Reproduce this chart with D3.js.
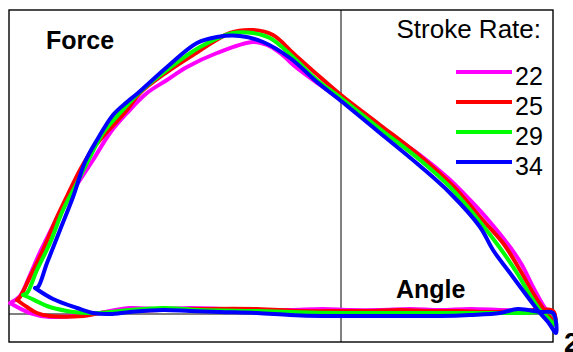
<!DOCTYPE html>
<html>
<head>
<meta charset="utf-8">
<script src="https://cdn.jsdelivr.net/npm/d3@7"></script>
<style>
  html, body { margin: 0; padding: 0; background: #fff; overflow: hidden; }
  text { font-family: "Liberation Sans", Arial, sans-serif; }
</style>
</head>
<body>
<svg id="chart" width="573" height="352"></svg>
<script>
// handle angle (deg) and force (N), drive then recovery, for each stroke rate
const rates = ["22", "25", "29", "34"];
const colors = ["#ff00ff", "#ff0000", "#00ff00", "#0000ff"];

const angle22 = [-66.2,-64.2,-62.2,-60.2,-58.8,-56.2,-54.2,-51.8,-49.6,-46.2,-42.8,-38.8,-34.8,-30.8,-24.8,-17.6,-14.8,-12.2,-8.8,-4.2,0,7.8,15.8,21.4,25.8,29.8,33.8,36.2,38.4,40.4,41.8,42.8,
  42.4,37.8,31.8,25.8,19.8,13.8,7.8,1.8,-3.6,-10.2,-16.8,-23.2,-30.2,-36.2,-42.2,-46.2,-48.2,-51.6,-58.2,-62.2,-66.2];
const force22 = [44,72,156,248,304,408,476,548,616,724,804,884,936,988,1044,1088,1076,1044,984,916,856,744,636,544,456,368,268,196,108,36,-4,-32,
  8,12,16,20,16,20,16,16,20,16,16,20,24,20,24,12,4,-4,-12,4,44];

const angle25 = [-64.8,-64.2,-62.2,-59.6,-56.8,-54.2,-52.2,-50.2,-48.2,-42.8,-40.2,-34.8,-29.6,-22.2,-17.6,-13.6,-9.6,-4.2,0,7.8,15.8,22.4,27.8,32.4,35.8,38.4,40.2,41.4,42.8,
  42.4,35.8,29.8,23.8,17.8,11.8,5.8,0,-8.2,-16.8,-28.2,-36.2,-42.2,-48.2,-51.6,-58.2,-60.8,-62.8,-64.8];
const force25 = [56,68,148,256,388,496,576,644,696,816,884,968,1036,1124,1136,1116,1044,948,876,756,632,512,388,284,176,84,28,-4,-32,
  12,12,8,12,12,16,12,12,12,20,20,16,12,4,-8,-8,4,28,56];

const angle29 = [-63.6,-62.8,-60.8,-58.2,-55.6,-52.8,-50.2,-47.6,-44.2,-40.2,-34.8,-28.2,-21.6,-17.6,-14.2,-9.6,-4.8,0,7.8,15.8,21.8,27.8,31.8,35.2,37.8,39.8,41.4,42.8,
  42.4,35.8,29.8,23.8,15.8,7.8,0,-10.2,-16.8,-28.2,-35.6,-42.2,-48.2,-50.8,-54.8,-58.8,-62.2,-63.6];
const force29 = [76,84,176,284,416,524,628,724,804,888,976,1068,1124,1124,1104,1028,936,864,740,616,508,368,264,164,76,16,-16,-44,
  0,4,4,4,4,4,4,8,12,16,24,16,4,4,12,32,64,76];

const angle34 = [-61.2,-60.6,-58.8,-56.2,-53.6,-51.2,-48.8,-45.6,-42.8,-40.6,-34.8,-28.8,-24.8,-20.2,-15.6,-10.2,-4.8,0,7.8,15.8,21.8,27.8,30.4,33.8,37.8,39.8,41.4,43,
  42.4,39.8,35.4,31.8,25.8,19.8,11.8,3.8,-3.6,-10.2,-16.8,-24.2,-30.2,-35.6,-42.2,-46.2,-49.6,-52.8,-57.6,-61.2];
const force34 = [104,108,204,336,468,608,696,796,848,884,988,1084,1108,1112,1088,1024,928,852,724,592,484,348,256,164,56,4,-32,-76,
  4,8,20,4,-4,-8,-8,-8,-8,-4,4,8,12,16,8,0,4,24,60,104];

const angles = [angle22, angle25, angle29, angle34];
const forces = [force22, force25, force29, force34];

const svg = d3.select("#chart");
svg.append("rect").attr("width", 573).attr("height", 352).attr("fill", "#fff");

const x = d3.scaleLinear().domain([-66.4, 42.4]).range([9, 553]);
const y = d3.scaleLinear().domain([-112, 1216]).range([342, 10]);

// zero lines
svg.append("line")
  .attr("x1", x(-66.4)).attr("x2", x(42.4))
  .attr("y1", y(0)).attr("y2", y(0))
  .attr("stroke", "#000").attr("stroke-width", 1);
svg.append("line")
  .attr("x1", x(0)).attr("x2", x(0))
  .attr("y1", y(-112)).attr("y2", y(1216))
  .attr("stroke", "#000").attr("stroke-width", 1);

// plot frame
svg.append("rect")
  .attr("x", x(-66.4)).attr("y", y(1216))
  .attr("width", x(42.4) - x(-66.4)).attr("height", y(-112) - y(1216))
  .attr("fill", "none").attr("stroke", "#000").attr("stroke-width", 1.4);

const line = d3.line()
  .curve(d3.curveCatmullRom.alpha(0.5))
  .x(d => x(d[0]))
  .y(d => y(d[1]));

rates.forEach((r, i) => {
  svg.append("path")
    .datum(d3.zip(angles[i], forces[i]))
    .attr("d", line)
    .attr("fill", "none")
    .attr("stroke", colors[i])
    .attr("stroke-width", 4)
    .attr("stroke-linejoin", "round")
    .attr("stroke-linecap", "round");
});

// labels
svg.append("text").attr("x", 46).attr("y", 49)
  .attr("font-size", 25).attr("font-weight", "bold").text("Force");
svg.append("text").attr("x", 396).attr("y", 298)
  .attr("font-size", 25).attr("font-weight", "bold").text("Angle");
svg.append("text").attr("x", 564).attr("y", 352)
  .attr("font-size", 27).attr("font-weight", "bold").text("2");

// legend
svg.append("text").attr("x", 541).attr("y", 38)
  .attr("text-anchor", "end").attr("font-size", 26).text("Stroke Rate:");

const legend = svg.append("g");
rates.forEach((r, i) => {
  const ly = 72 + i * 30;
  legend.append("line")
    .attr("x1", 456).attr("x2", 512)
    .attr("y1", ly).attr("y2", ly)
    .attr("stroke", colors[i]).attr("stroke-width", 4);
  legend.append("text")
    .attr("x", 515).attr("y", ly + 6)
    .attr("dominant-baseline", "middle")
    .attr("font-size", 25).text(r);
});
</script>
</body>
</html>
